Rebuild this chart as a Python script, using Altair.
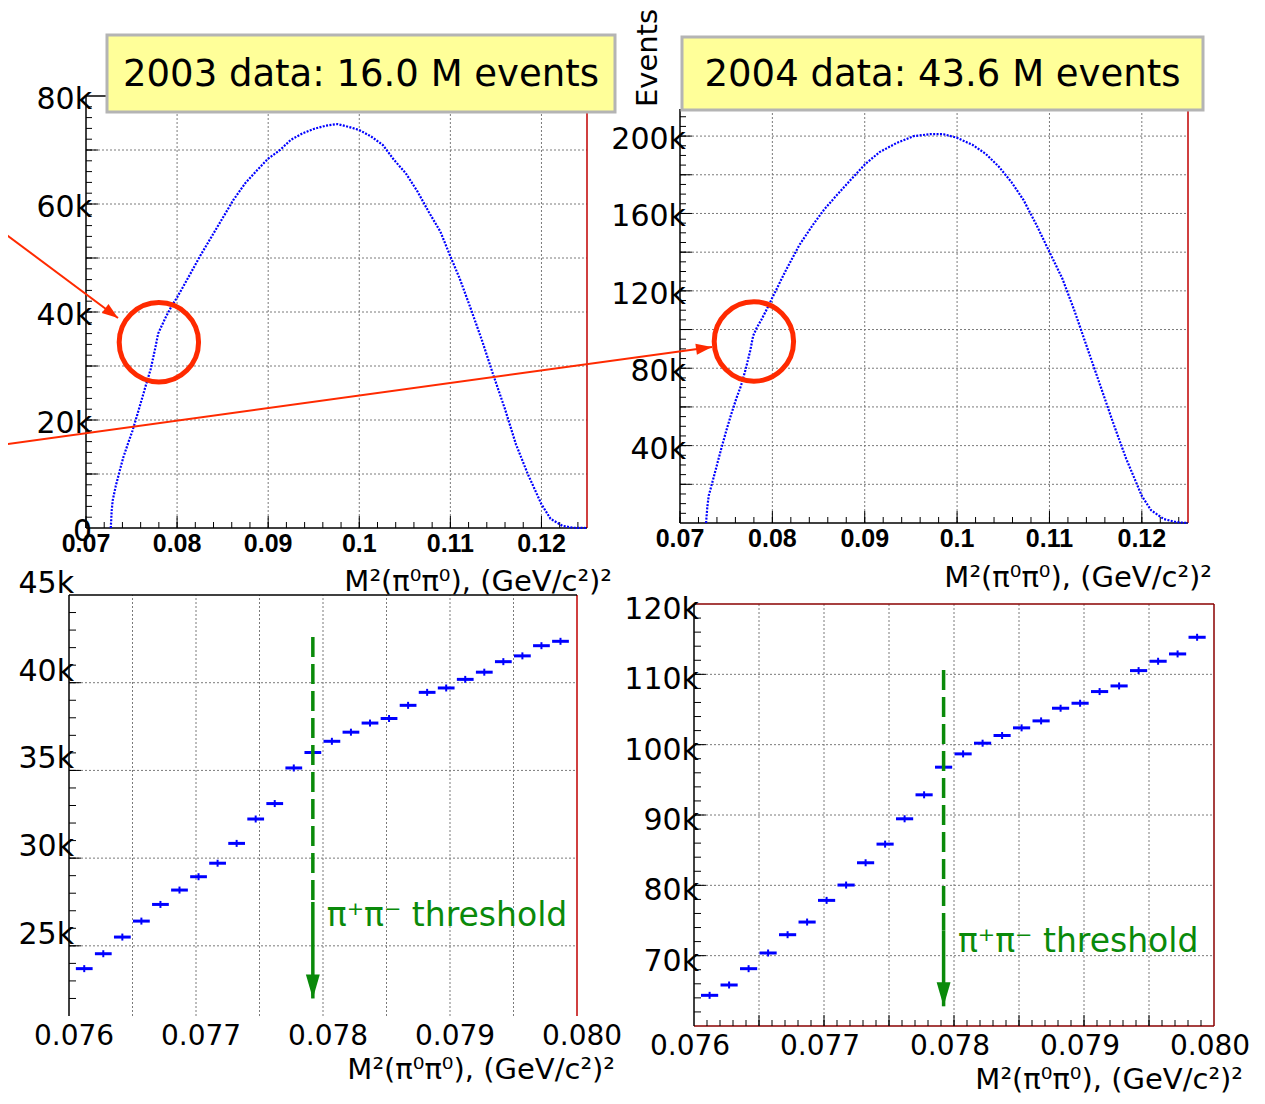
import altair as alt
import pandas as pd

# ---------------- values ----------------
# top-left: 2003 data, full M^2(pi0 pi0) spectrum
tl_mass = [0.07272, 0.07282, 0.07293, 0.07327, 0.0737, 0.0741, 0.0746, 0.0751, 0.0756, 0.0761,
           0.0766, 0.0771, 0.0776, 0.07792, 0.0783, 0.0788, 0.0794, 0.0800, 0.0812, 0.0825,
           0.0837, 0.0850, 0.0862, 0.0875, 0.0888, 0.0900, 0.0913, 0.0925, 0.0938, 0.0950,
           0.0963, 0.0976, 0.0988, 0.1000, 0.1013, 0.1026, 0.1038, 0.1051, 0.1064, 0.1076,
           0.1089, 0.1100, 0.1110, 0.1122, 0.1135, 0.1147, 0.1160, 0.1172, 0.1185, 0.1200,
           0.1210, 0.1223, 0.1235, 0.1250]
tl_events = [0, 3200, 5100, 7800, 10600, 13100, 15600, 18000, 20800, 23700,
             26600, 29400, 33300, 36000, 37400, 39200, 41100, 42700, 46300, 50300,
             53700, 57400, 60800, 63900, 66300, 68400, 70000, 71900, 73100, 73900,
             74500, 74800, 74300, 73700, 72500, 70900, 68200, 65700, 62300, 58600,
             54900, 50300, 46300, 40800, 34600, 28400, 22000, 15500, 10000, 4400,
             1700, 400, 50, 0]

# top-right: 2004 data, full spectrum
tr_mass = [0.07282, 0.07296, 0.07311, 0.0735, 0.0740, 0.0745, 0.0750, 0.0755, 0.0761, 0.0766,
           0.0771, 0.0776, 0.07792, 0.0783, 0.0788, 0.0794, 0.0800, 0.0815, 0.0829, 0.0843,
           0.0856, 0.0870, 0.0884, 0.0900, 0.0916, 0.0934, 0.0953, 0.0971, 0.0985, 0.1000,
           0.1017, 0.1031, 0.1045, 0.1059, 0.1072, 0.1086, 0.1100, 0.1114, 0.1127, 0.1141,
           0.1155, 0.1169, 0.1183, 0.1200, 0.1210, 0.1224, 0.1238, 0.1250]
tr_events = [0, 8400, 14100, 21000, 30000, 39000, 47500, 55500, 64400, 70900,
             79300, 89000, 96800, 100800, 105000, 110500, 116500, 131000, 143500, 153500,
             162000, 169600, 177000, 185300, 191700, 196300, 200000, 201000, 201000, 199100,
             195400, 190800, 184300, 176100, 166900, 154000, 140100, 126300, 109800, 90400,
             71100, 51700, 33300, 14000, 6600, 2000, 400, 0]

# bottom panels: zoom on the pi+ pi- threshold region (bin centres, events)
zoom_bin_centers = [0.07612, 0.07627, 0.07642, 0.07657, 0.07672, 0.07687, 0.07702, 0.07717,
                    0.07732, 0.07747, 0.07762, 0.07777, 0.07792, 0.07807, 0.07822, 0.07837,
                    0.07852, 0.07867, 0.07882, 0.07897, 0.07912, 0.07927, 0.07942, 0.07957,
                    0.07972, 0.07987]
bin_half_width = 0.000066
bl_events = [23700, 24550, 25500, 26410, 27360, 28180, 28940, 29710, 30840, 32230, 33110, 35140,
             36020, 36660, 37180, 37700, 37960, 38710, 39450, 39700, 40190, 40600, 41200, 41530,
             42110, 42360]
br_events = [64360, 65830, 68150, 70380, 72980, 74780, 77860, 80040, 83210, 85860, 89460, 92870,
             96800, 98690, 100210, 101300, 102390, 103380, 105180, 105890, 107550, 108350, 110530,
             111860, 112900, 115270]

threshold_m2 = 0.07792

# tick positions / labels
top_x_major = [0.07, 0.08, 0.09, 0.10, 0.11, 0.12]
top_x_labels = ["0.07", "0.08", "0.09", "0.1", "0.11", "0.12"]
top_x_minor = [0.07 + 0.002 * i for i in range(28)]
tl_y_grid = [10000 * i for i in range(1, 8)]
tl_y_minor = [2000 * i for i in range(1, 40)]
tl_y_labels_v = [0, 20000, 40000, 60000, 80000]
tl_y_labels = ["0", "20k", "40k", "60k", "80k"]
tr_y_grid = [20000 * i for i in range(1, 11)]
tr_y_minor = [5000 * i for i in range(1, 43)]
tr_y_labels_v = [40000, 80000, 120000, 160000, 200000]
tr_y_labels = ["40k", "80k", "120k", "160k", "200k"]
zoom_x_grid = [0.0765, 0.0770, 0.0775, 0.0780, 0.0785, 0.0790, 0.0795]
zoom_x_labels_v = [0.076, 0.077, 0.078, 0.079, 0.080]
zoom_x_labels = ["0.076", "0.077", "0.078", "0.079", "0.080"]
bl_y_grid = [25000, 30000, 35000, 40000]
bl_y_minor = [22000 + 1000 * i for i in range(23)]
bl_y_labels_v = [25000, 30000, 35000, 40000, 45000]
bl_y_labels = ["25k", "30k", "35k", "40k", "45k"]
br_y_grid = [70000, 80000, 90000, 100000, 110000]
br_y_minor = [62000 + 2000 * i for i in range(29)]
br_x_minor = [0.0761 + 0.0001 * i for i in range(39)]
br_y_labels_v = [70000, 80000, 90000, 100000, 110000, 120000]
br_y_labels = ["70k", "80k", "90k", "100k", "110k", "120k"]

axis_title = "M²(π⁰π⁰), (GeV/c²)²"
title_2003 = "2003 data: 16.0 M events"
title_2004 = "2004 data: 43.6 M events"
threshold_text = "π⁺π⁻ threshold"

# ---------------- layout / style ----------------
W, H = 1249, 1088
BLUE = "#0000ff"
RED = "#ff2a00"
GREEN = "#0a8a0a"
GRID = "#7a7a7a"
FRAME_RED = "#c00000"
FONT = "DejaVu Sans"

P = {
    "tl": dict(xdom=[0.07, 0.125], ydom=[0, 80000], xr=[78, 579], yr=[520, 88]),
    "tr": dict(xdom=[0.07, 0.125], ydom=[0, 214000], xr=[672, 1180], yr=[515, 101]),
    "bl": dict(xdom=[0.076, 0.080], ydom=[21000, 45000], xr=[61, 569], yr=[1008, 587]),
    "br": dict(xdom=[0.076, 0.080], ydom=[60000, 120000], xr=[686, 1206], yr=[1018, 596]),
}


def ppx(p):
    return (p["xdom"][1] - p["xdom"][0]) / (p["xr"][1] - p["xr"][0])


def ppy(p):
    return (p["ydom"][1] - p["ydom"][0]) / (p["yr"][0] - p["yr"][1])


def enc(p, xf="x", yf="y", x2=None, y2=None):
    e = {
        "x": alt.X(xf, type="quantitative", axis=None,
                   scale=alt.Scale(domain=p["xdom"], range=p["xr"], nice=False, zero=False)),
        "y": alt.Y(yf, type="quantitative", axis=None,
                   scale=alt.Scale(domain=p["ydom"], range=p["yr"], nice=False, zero=False)),
    }
    if x2:
        e["x2"] = alt.X2(x2)
    if y2:
        e["y2"] = alt.Y2(y2)
    return e


layers = []


def rules(p, df, x, y, x2=None, y2=None, **mk):
    layers.append(alt.Chart(df).mark_rule(**mk).encode(**enc(p, x, y, x2, y2)))


def vgrid(p, vals):
    df = pd.DataFrame({"x": vals, "y0": p["ydom"][0], "y1": p["ydom"][1]})
    rules(p, df, "x", "y0", y2="y1", color=GRID, strokeDash=[2, 2], strokeWidth=1)


def hgrid(p, vals):
    df = pd.DataFrame({"y": vals, "x0": p["xdom"][0], "x1": p["xdom"][1]})
    rules(p, df, "x0", "y", x2="x1", color=GRID, strokeDash=[2, 2], strokeWidth=1)


def edge(p, side, color, width=1.5):
    x0, x1 = p["xdom"]
    y0, y1 = p["ydom"]
    if side == "left":
        df = pd.DataFrame({"x": [x0], "y0": [y0], "y1": [y1]})
        rules(p, df, "x", "y0", y2="y1", color=color, strokeWidth=width)
    elif side == "right":
        df = pd.DataFrame({"x": [x1], "y0": [y0], "y1": [y1]})
        rules(p, df, "x", "y0", y2="y1", color=color, strokeWidth=width)
    elif side == "bottom":
        df = pd.DataFrame({"y": [y0], "x0": [x0], "x1": [x1]})
        rules(p, df, "x0", "y", x2="x1", color=color, strokeWidth=width)
    else:
        df = pd.DataFrame({"y": [y1], "x0": [x0], "x1": [x1]})
        rules(p, df, "x0", "y", x2="x1", color=color, strokeWidth=width)


def xticks(p, vals, length):
    y0 = p["ydom"][0]
    df = pd.DataFrame({"x": vals, "y0": y0, "y1": y0 + length * ppy(p)})
    rules(p, df, "x", "y0", y2="y1", color="black", strokeWidth=1)


def yticks(p, vals, length):
    x0 = p["xdom"][0]
    df = pd.DataFrame({"y": vals, "x0": x0, "x1": x0 + length * ppx(p)})
    rules(p, df, "x0", "y", x2="x1", color="black", strokeWidth=1)


def texts(p, xs, ys, labels, **mk):
    df = pd.DataFrame({"x": xs, "y": ys, "t": labels})
    layers.append(alt.Chart(df).mark_text(**mk).encode(text="t:N", **enc(p)))


# ---------------- top-left panel (2003) ----------------
p = P["tl"]
vgrid(p, top_x_major[1:])
hgrid(p, tl_y_grid)
edge(p, "right", FRAME_RED)
edge(p, "top", "black")
edge(p, "left", "black")
edge(p, "bottom", "black")
xticks(p, top_x_minor, 6)
xticks(p, top_x_major, 12)
yticks(p, tl_y_minor, 6)
yticks(p, tl_y_grid, 12)
layers.append(alt.Chart(pd.DataFrame({"x": tl_mass, "y": tl_events}))
              .mark_line(color=BLUE, strokeWidth=2.2, strokeDash=[2, 1.4]).encode(**enc(p)))
texts(p, top_x_major, [p["ydom"][0]] * 6, top_x_labels, align="center", baseline="top", dy=4,
      font="Liberation Sans", fontWeight="bold", fontSize=25, color="black")
texts(p, [p["xdom"][0]] * 5, tl_y_labels_v, tl_y_labels, align="right", baseline="middle",
      dx=6, dy=4, font=FONT, fontSize=30, color="black")

# ---------------- top-right panel (2004) ----------------
p = P["tr"]
vgrid(p, top_x_major[1:])
hgrid(p, tr_y_grid)
edge(p, "right", FRAME_RED)
edge(p, "left", "black")
edge(p, "bottom", "black")
xticks(p, top_x_minor, 6)
xticks(p, top_x_major, 12)
yticks(p, tr_y_minor, 6)
yticks(p, tr_y_grid, 12)
layers.append(alt.Chart(pd.DataFrame({"x": tr_mass, "y": tr_events}))
              .mark_line(color=BLUE, strokeWidth=2.2, strokeDash=[2, 1.4]).encode(**enc(p)))
texts(p, top_x_major, [p["ydom"][0]] * 6, top_x_labels, align="center", baseline="top", dy=4,
      font="Liberation Sans", fontWeight="bold", fontSize=25, color="black")
texts(p, [p["xdom"][0]] * 5, tr_y_labels_v, tr_y_labels, align="right", baseline="middle",
      dx=6, dy=4, font=FONT, fontSize=30, color="black")


# ---------------- bottom panels ----------------
def zoom_panel(p, events, ygrid, yminor, ylab_v, ylab, ylab_dy, frame_color, bottom_line,
               xminor=None, arrow=None, text_pos=None, xlab_dy=24, xlab_dx=0):
    vgrid(p, zoom_x_grid)
    hgrid(p, ygrid)
    edge(p, "right", frame_color)
    if bottom_line:
        edge(p, "bottom", frame_color)
    edge(p, "top", "black" if not bottom_line else frame_color)
    edge(p, "left", "black")
    yticks(p, yminor, 7)
    yticks(p, ygrid, 12)
    if xminor:
        xticks(p, xminor, 6)
        xticks(p, zoom_x_grid, 11)
    df = pd.DataFrame({"c": zoom_bin_centers, "y": events})
    df["lo"] = df["c"] - bin_half_width
    df["hi"] = df["c"] + bin_half_width
    rules(p, df, "lo", "y", x2="hi", color=BLUE, strokeWidth=3)
    layers.append(alt.Chart(df).mark_point(shape="M0,-1L0,1", filled=False, size=49, strokeWidth=2,
                                           color=BLUE, opacity=1).encode(**enc(p, "c", "y")))
    # threshold arrow
    top, mid, tip = arrow
    dfa = pd.DataFrame({"x": [threshold_m2], "a": [top], "b": [mid], "c": [tip]})
    rules(p, dfa, "x", "a", y2="b", color=GREEN, strokeWidth=3.5, strokeDash=[20, 7])
    rules(p, dfa, "x", "b", y2="c", color=GREEN, strokeWidth=3.5)
    layers.append(alt.Chart(dfa).mark_point(shape="M0,0L-0.58,-2L0.58,-2Z", filled=True, size=576,
                                            color=GREEN, opacity=1).encode(**enc(p, "x", "c")))
    texts(p, [text_pos[0]], [text_pos[1]], [threshold_text], align="left", baseline="middle",
          font=FONT, fontSize=33, color=GREEN)
    texts(p, zoom_x_labels_v, [p["ydom"][0]] * 5, zoom_x_labels, align="center", baseline="middle",
          dx=xlab_dx, dy=xlab_dy, font=FONT, fontSize=28, color="black")
    texts(p, [p["xdom"][0]] * len(ylab), ylab_v, ylab, align="right", baseline="middle",
          dx=5, dy=ylab_dy, font=FONT, fontSize=30, color="black")


zoom_panel(P["bl"], bl_events, bl_y_grid, bl_y_minor, bl_y_labels_v, bl_y_labels, -11,
           FRAME_RED, False, arrow=(42600, 27500, 22000), text_pos=(0.07803, 26700),
           xlab_dy=21, xlab_dx=5)
zoom_panel(P["br"], br_events, br_y_grid, br_y_minor, br_y_labels_v, br_y_labels, 6,
           "#8a0000", True, xminor=br_x_minor, arrow=(110600, 73600, 62800),
           text_pos=(0.07803, 72000), xlab_dy=21, xlab_dx=-4)

# ---------------- axis titles, title boxes ----------------
def free_text(txt, x, y, **mk):
    layers.append(alt.Chart(pd.DataFrame({"t": [txt]})).mark_text(**mk)
                  .encode(x=alt.value(x), y=alt.value(y), text="t:N"))


for (xx, yy, bl) in [(604, 574, "middle"), (1204, 570, "middle"), (607, 1062, "middle"),
                     (1235, 1087, "bottom")]:
    free_text(axis_title, xx, yy, align="right", baseline=bl, font=FONT, fontSize=29,
              color="black")

for (x0, x1, y0, y1, txt) in [(99, 607, 27, 104, title_2003), (674, 1195, 29, 102, title_2004)]:
    layers.append(alt.Chart(pd.DataFrame({"a": [0]})).mark_rect(fill="#ffff99", stroke="#b4b4b4",
                                                                 strokeWidth=3)
                  .encode(x=alt.value(x0), x2=alt.value(x1), y=alt.value(y0), y2=alt.value(y1)))
    free_text(txt, (x0 + x1) / 2, (y0 + y1) / 2 + 1, align="center", baseline="middle", font=FONT,
              fontSize=37, color="black")

free_text("Events", 640, 50, align="center", baseline="middle", angle=270, font=FONT, fontSize=29,
          color="black")

# ---------------- red circles and arrows ----------------
p = P["tl"]
layers.append(alt.Chart(pd.DataFrame({"x": [0.0780], "y": [34400]}))
              .mark_point(shape="circle", filled=False, size=6300, strokeWidth=5, color=RED, opacity=1)
              .encode(**enc(p)))
rules(p, pd.DataFrame({"x": [0.06056], "y": [55185], "x2": [0.07351], "y2": [38889]}),
      "x", "y", x2="x2", y2="y2", color=RED, strokeWidth=2)
layers.append(alt.Chart(pd.DataFrame({"x": [0.07351], "y": [38889]}))
              .mark_point(shape="M0,0L-2,-0.7L-2,0.7Z", filled=True, size=256, angle=36.7,
                          color=RED, opacity=1).encode(**enc(p)))

p = P["tr"]
layers.append(alt.Chart(pd.DataFrame({"x": [0.0780], "y": [93800]}))
              .mark_point(shape="circle", filled=False, size=6300, strokeWidth=5, color=RED, opacity=1)
              .encode(**enc(p)))
rules(p, pd.DataFrame({"x": [-0.003625], "y": [40318], "x2": [0.073465], "y2": [90975]}),
      "x", "y", x2="x2", y2="y2", color=RED, strokeWidth=2)
layers.append(alt.Chart(pd.DataFrame({"x": [0.073465], "y": [90975]}))
              .mark_point(shape="M0,0L-2,-0.7L-2,0.7Z", filled=True, size=256, angle=352.16,
                          color=RED, opacity=1).encode(**enc(p)))

chart = (alt.layer(*layers)
         .resolve_scale(x="independent", y="independent")
         .properties(width=W, height=H, autosize=alt.AutoSizeParams(type="none"), padding=0,
                     background="white")
         .configure_view(stroke=None))

chart.save("out.html", embed_options={"renderer": "svg", "actions": False})
